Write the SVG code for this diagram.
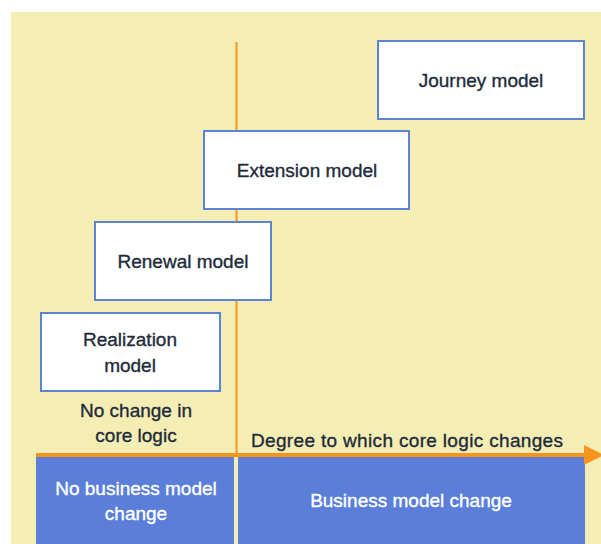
<svg xmlns="http://www.w3.org/2000/svg" width="601" height="544" viewBox="0 0 601 544">
<defs>
<style>
.box{fill:#ffffff;stroke:#5b84d9;stroke-width:2}
.t{font-family:"Liberation Sans",Arial,sans-serif;font-size:19px;fill:#1e2b3a;stroke:#1e2b3a;stroke-width:0.35;text-anchor:middle}
.w{font-family:"Liberation Sans",Arial,sans-serif;font-size:19px;fill:#ffffff;stroke:#ffffff;stroke-width:0.35;text-anchor:middle}
.bar{fill:#5b7fd8}
</style>
<marker id="ah" markerWidth="5" markerHeight="5" refX="0" refY="2.5" orient="auto" markerUnits="strokeWidth">
<path d="M0,0 L5,2.5 L0,5 Z" fill="#f7941d"/>
</marker>
</defs>
<rect width="601" height="544" fill="#ffffff"/>
<rect x="11" y="12" width="590" height="532" fill="#f5eeb4"/>
<g id="bars">
<rect class="bar" x="36" y="457" width="198" height="87"/>
<rect class="bar" x="238" y="457" width="347" height="87"/>
<text class="w" x="136" y="495">No business model</text>
<text class="w" x="136" y="520">change</text>
<text class="w" x="411" y="507">Business model change</text>
</g>
<g id="connectors">
<line x1="236.5" y1="42" x2="236.5" y2="457" stroke="#f7941d" stroke-width="2"/>
<line x1="36" y1="455" x2="584" y2="455" stroke="#f7941d" stroke-width="4" marker-end="url(#ah)"/>
</g>
<g id="journey">
<rect class="box" x="378" y="41" width="206" height="78"/>
<text class="t" x="481" y="87">Journey model</text>
</g>
<g id="extension">
<rect class="box" x="204" y="131" width="205" height="78"/>
<text class="t" x="307" y="177">Extension model</text>
</g>
<g id="renewal">
<rect class="box" x="95" y="222" width="176" height="78"/>
<text class="t" x="183" y="268">Renewal model</text>
</g>
<g id="realization">
<rect class="box" x="41" y="313" width="179" height="78"/>
<text class="t" x="130" y="346">Realization</text>
<text class="t" x="130" y="372">model</text>
</g>
<g id="labels">
<text class="t" x="136" y="417">No change in</text>
<text class="t" x="136" y="442">core logic</text>
<text class="t" x="407" y="447" textLength="312" lengthAdjust="spacing">Degree to which core logic changes</text>
</g>
</svg>
